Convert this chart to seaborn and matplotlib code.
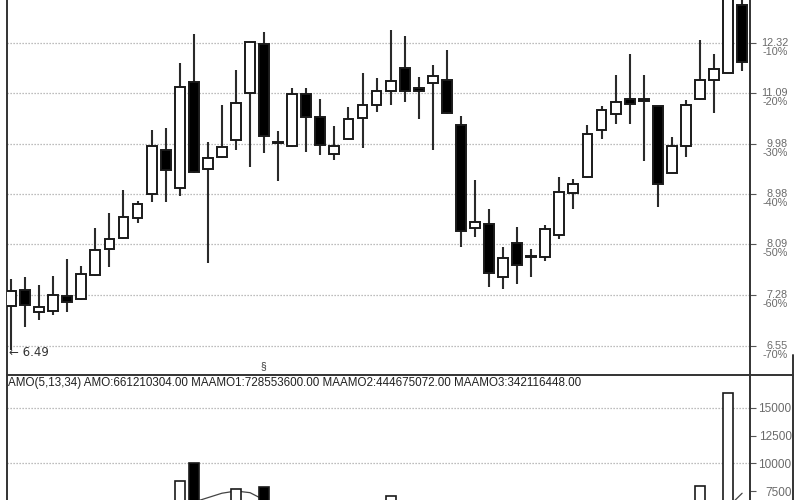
import numpy as np
import pandas as pd
import matplotlib
matplotlib.use("Agg")
import matplotlib.pyplot as plt
from matplotlib.lines import Line2D
from matplotlib.ticker import NullLocator
import seaborn as sns

# candle data (53 sessions)
opens = [7.11, 7.35, 7.02, 7.04, 7.26, 7.22, 7.59, 8.01, 8.20, 8.55,
         8.98, 9.85, 9.10, 11.35, 9.47, 9.71, 10.06, 11.09, 12.29, 10.02,
         9.93, 11.07, 10.55, 9.77, 10.08, 10.53, 10.82, 11.14, 11.69, 11.21,
         11.33, 11.40, 10.38, 8.37, 8.44, 7.56, 8.11, 7.88, 7.88, 8.25,
         9.00, 9.31, 10.27, 10.62, 10.95, 10.95, 10.80, 9.39, 9.93, 10.95,
         11.40, 11.57, 13.33]
closes = [7.34, 7.13, 7.10, 7.28, 7.17, 7.60, 7.99, 8.18, 8.56, 8.80,
          9.93, 9.45, 11.23, 9.41, 9.69, 9.91, 10.86, 12.33, 10.14, 10.00,
          11.07, 10.55, 9.95, 9.93, 10.51, 10.82, 11.14, 11.37, 11.14, 11.14,
          11.49, 10.64, 8.32, 8.48, 7.62, 7.86, 7.75, 7.89, 8.35, 9.02,
          9.17, 10.18, 10.71, 10.89, 10.84, 10.91, 9.17, 9.93, 10.82, 11.40,
          11.66, 13.90, 11.83]
highs = [7.53, 7.56, 7.43, 7.57, 7.85, 7.73, 8.37, 8.64, 9.06, 8.85,
         10.27, 10.31, 11.81, 12.55, 10.01, 10.82, 11.64, 12.35, 12.60, 10.25,
         11.21, 11.21, 10.95, 10.35, 10.77, 11.57, 11.45, 12.65, 12.49, 11.47,
         11.76, 12.13, 10.57, 9.25, 8.71, 8.04, 8.39, 8.01, 8.42, 9.31,
         9.27, 10.38, 10.80, 11.52, 12.03, 11.52, 10.80, 10.12, 10.93, 12.39,
         12.03, 14.10, 13.60]
lows = [6.49, 6.81, 6.91, 6.98, 7.02, 7.20, 7.57, 7.72, 8.18, 8.46,
        8.84, 8.84, 8.95, 9.39, 7.78, 9.69, 9.85, 9.51, 9.79, 9.23,
        9.92, 9.81, 9.75, 9.65, 10.06, 9.89, 10.66, 10.82, 10.89, 10.51,
        9.85, 10.62, 8.04, 8.21, 7.40, 7.37, 7.45, 7.56, 7.81, 8.18,
        8.71, 9.30, 10.08, 10.40, 10.40, 9.63, 8.74, 9.38, 9.71, 10.94,
        10.64, 11.57, 11.61]

# price grid levels and their labels on the right
grid_prices = [12.32, 11.09, 9.98, 8.98, 8.09, 7.28, 6.55]
grid_pcts = ["-10%", "-20%", "-30%", "-40%", "-50%", "-60%", "-70%"]

# volume bars that show above the cut-off bottom of the picture
vol_idx = [12, 13, 16, 18, 27, 49, 51]
vol_val = [8400, 10050, 7650, 7850, 7050, 7950, 16300]
vol_ticks = [15000, 12500, 10000, 7500]

# visible pieces of the volume moving average
ma_idx = [13, 14, 15, 16, 17, 18, 51, 52]
ma_val = [6500, 6900, 7300, 7500, 7350, 6700, 6050, 7300]
ma_seg = [0, 0, 0, 0, 0, 0, 1, 1]

indicator_text = ("AMO(5,13,34) AMO:661210304.00 MAAMO1:728553600.00 "
                  "MAAMO2:444675072.00 MAAMO3:342116448.00")

sns.set_style("white")
plt.rcParams["font.family"] = ["Liberation Sans", "DejaVu Sans"]

df = pd.DataFrame({"open": opens, "close": closes, "high": highs, "low": lows})
df["x"] = np.arange(len(df))
df["up"] = df["close"] >= df["open"]

fig = plt.figure(figsize=(8, 5), dpi=100)
ax = fig.add_axes([7 / 800, 125 / 500, 743 / 800, 375 / 500])
ax2 = fig.add_axes([7 / 800, 0, 743 / 800, 124 / 500])

edge = "#1a1a1a"
grid_kw = dict(color="#a8a8a8", lw=0.9, linestyle=(0, (1, 1.4)), zorder=0)

# price panel
ax.set_yscale("log")
ax.set_ylim(6.159, 13.47)
ax.set_xlim(-0.285, 52.56)
for g in grid_prices:
    ax.axhline(g, **grid_kw)

ax.vlines(df["x"], df["low"], df["high"], color="#2a2a2a", lw=1.5, zorder=2)
body = (df["close"] - df["open"]).abs().clip(lower=0.004)
bottom = df[["open", "close"]].min(axis=1)
ax.bar(df["x"], body, bottom=bottom, width=0.7,
       color=np.where(df["up"], "white", "black"),
       edgecolor=edge, linewidth=1.4, zorder=3)

ax.yaxis.tick_right()
ax.yaxis.set_minor_locator(NullLocator())
ax.set_yticks(grid_prices)
ax.set_yticklabels([])
ax.tick_params(axis="y", length=4, color="#555555", width=0.8)
ax.set_xticks([])
for g, p in zip(grid_prices, grid_pcts):
    ax.annotate(f"{g:.2f}", xy=(1, g), xycoords=("axes fraction", "data"),
                xytext=(38, 0), textcoords="offset pixels", ha="right",
                va="center", fontsize=7.8, color="#6a6a6a")
    ax.annotate(p, xy=(1, g), xycoords=("axes fraction", "data"),
                xytext=(38, -9), textcoords="offset pixels", ha="right",
                va="center", fontsize=7.8, color="#6a6a6a")

ax.annotate("\u2190 6.49", xy=(0, lows[0]), xytext=(-2, -3),
            textcoords="offset pixels", ha="left", va="center",
            fontsize=8.5, color="#333333", family=["DejaVu Sans"])
ax.annotate("\u00a7", xy=(18, 6.159), xytext=(-1, 9), textcoords="offset pixels",
            ha="center", va="center", fontsize=7.5, color="#333333")

for s in ["left", "right", "bottom"]:
    ax.spines[s].set_color("#333333")
    ax.spines[s].set_linewidth(1.4)
ax.spines["top"].set_visible(False)

# volume panel
ax2.set_xlim(-0.285, 52.56)
ax2.set_ylim(6690, 17860)
for v in [15000, 10000]:
    ax2.axhline(v, **grid_kw)
vdf = pd.DataFrame({"x": vol_idx, "vol": vol_val})
vdf["up"] = [df["up"][i] for i in vol_idx]
ax2.bar(vdf["x"], vdf["vol"], width=0.7,
        color=np.where(vdf["up"], "white", "black"),
        edgecolor=edge, linewidth=1.2, zorder=3)
ma = pd.DataFrame({"x": ma_idx, "ma": ma_val, "seg": ma_seg})
sns.lineplot(data=ma, x="x", y="ma", units="seg", estimator=None,
             color="#444444", lw=0.9, ax=ax2, zorder=2)
ax2.set_xlabel("")
ax2.set_ylabel("")
ax2.set_xticks([])
ax2.yaxis.tick_right()
ax2.set_yticks(vol_ticks)
ax2.set_yticklabels([str(v) for v in vol_ticks])
ax2.tick_params(axis="y", length=4, color="#555555", width=0.8,
                labelsize=8.5, labelcolor="#6a6a6a", pad=26)
for lab in ax2.get_yticklabels():
    lab.set_horizontalalignment("right")
for s in ["left", "right"]:
    ax2.spines[s].set_color("#333333")
    ax2.spines[s].set_linewidth(1.4)
ax2.spines["top"].set_visible(False)
ax2.spines["bottom"].set_visible(False)

# outer frame of the volume label column
fig.add_artist(Line2D([750 / 800, 793 / 800], [125 / 500, 125 / 500],
                      color="#333333", lw=1.4))
fig.add_artist(Line2D([793 / 800, 793 / 800], [0, 145 / 500],
                      color="#333333", lw=1.4))

fig.text(8 / 800, 1 - 383 / 500, indicator_text, fontsize=8.4,
         color="#222222", va="center", ha="left")

fig.savefig("out.png", dpi=100)
